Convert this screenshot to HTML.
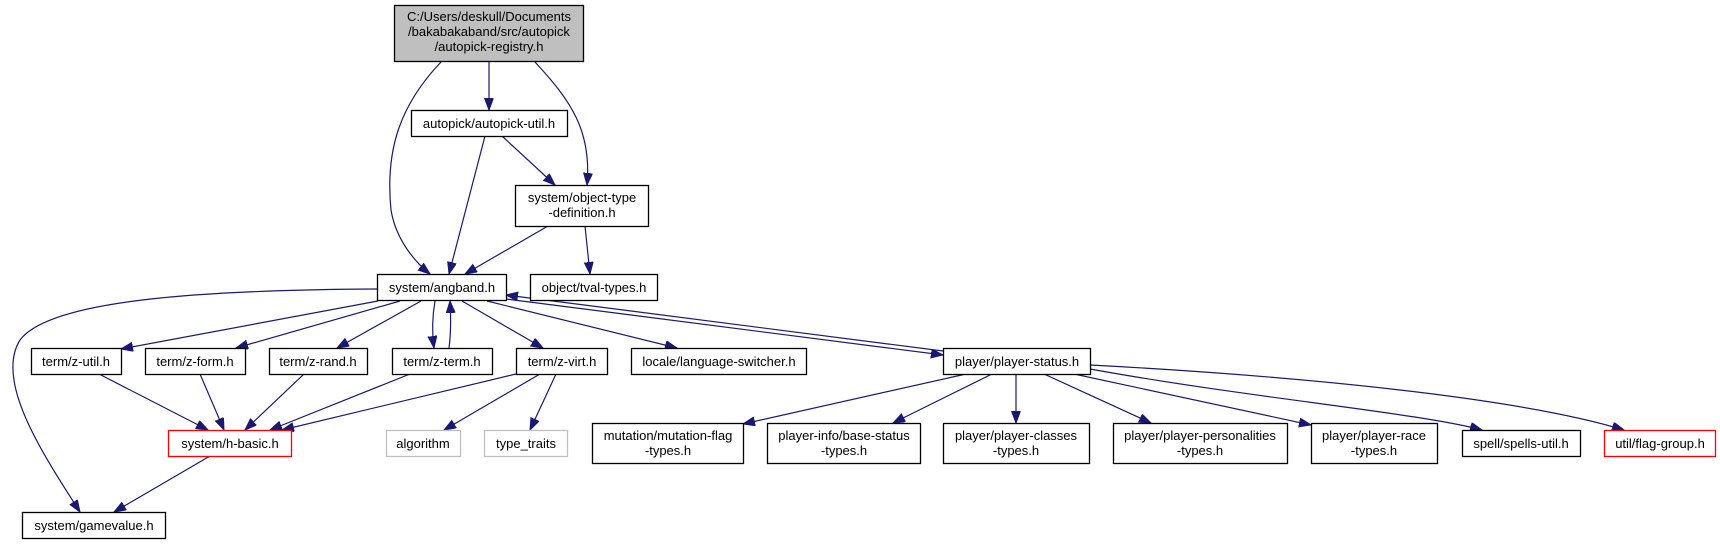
<!DOCTYPE html>
<html><head><meta charset="utf-8"><style>
html,body{margin:0;padding:0;background:#fff;}
svg{display:block;}
text{font-family:"Liberation Sans",Arial,sans-serif;font-size:13px;fill:#000;text-anchor:middle;}
.n{fill:#fff;stroke:#000;stroke-width:1.3;}
.e{fill:none;stroke:#191970;stroke-width:1.2;}
</style></head><body>
<svg width="1720" height="544" viewBox="0 0 1720 544" xmlns="http://www.w3.org/2000/svg">
<defs>
<marker id="a" markerWidth="13" markerHeight="10" refX="12" refY="4.5" orient="auto" markerUnits="userSpaceOnUse">
<polygon points="0,0 12,4.5 0,9" fill="#191970" stroke="#191970"/>
</marker>
</defs>
<g>
<path class="e" d="M441,62 C400,105 385,150 391,210 C396,240 415,262 430,274" marker-end="url(#a)"/>
<path class="e" d="M489,62 L489,110" marker-end="url(#a)"/>
<path class="e" d="M535,62 C570,100 592,130 587,185" marker-end="url(#a)"/>
<path class="e" d="M485,136 L449,274" marker-end="url(#a)"/>
<path class="e" d="M502,136 L555,185" marker-end="url(#a)"/>
<path class="e" d="M548,226 L465,274" marker-end="url(#a)"/>
<path class="e" d="M585,226 L590,274" marker-end="url(#a)"/>
<path class="e" d="M377,289 C200,290 50,300 20,340 C-5,380 40,450 80,512" marker-end="url(#a)"/>
<path class="e" d="M378,301 L121,349" marker-end="url(#a)"/>
<path class="e" d="M400,301 L236,348" marker-end="url(#a)"/>
<path class="e" d="M421,301 L337,348" marker-end="url(#a)"/>
<path class="e" d="M435,301 C432,318 432,333 434,348" marker-end="url(#a)"/>
<path class="e" d="M449,348 C451,333 451,318 450,301" marker-end="url(#a)"/>
<path class="e" d="M462,301 L543,348" marker-end="url(#a)"/>
<path class="e" d="M487,301 L677,348" marker-end="url(#a)"/>
<path class="e" d="M506,299 L943,355" marker-end="url(#a)"/>
<path class="e" d="M943,351 L506,295" marker-end="url(#a)"/>
<path class="e" d="M99,374 L208,430" marker-end="url(#a)"/>
<path class="e" d="M200,374 L224,430" marker-end="url(#a)"/>
<path class="e" d="M304,374 L245,430" marker-end="url(#a)"/>
<path class="e" d="M410,374 L270,430" marker-end="url(#a)"/>
<path class="e" d="M516,374 L282,430" marker-end="url(#a)"/>
<path class="e" d="M540,374 L444,430" marker-end="url(#a)"/>
<path class="e" d="M556,374 L530,430" marker-end="url(#a)"/>
<path class="e" d="M210,456 L114,512" marker-end="url(#a)"/>
<path class="e" d="M966,374 L743,424" marker-end="url(#a)"/>
<path class="e" d="M992,374 L893,423" marker-end="url(#a)"/>
<path class="e" d="M1016,374 L1016,423" marker-end="url(#a)"/>
<path class="e" d="M1044,374 L1151,423" marker-end="url(#a)"/>
<path class="e" d="M1074,374 L1311,425" marker-end="url(#a)"/>
<path class="e" d="M1090,369 C1250,398 1420,413 1482,430" marker-end="url(#a)"/>
<path class="e" d="M1090,365 C1300,376 1520,398 1624,430" marker-end="url(#a)"/>
</g>
<rect x="394.5" y="5.5" width="189" height="56" fill="#bfbfbf" stroke="#000" stroke-width="1.3"/>
<text x="489" y="21">C:/Users/deskull/Documents</text>
<text x="489" y="36">/bakabakaband/src/autopick</text>
<text x="489" y="51">/autopick-registry.h</text>

<rect class="n" x="411.5" y="110.5" width="156" height="26"/><text x="489" y="128">autopick/autopick-util.h</text>
<rect class="n" x="515.5" y="185.5" width="133" height="41"/><text x="582" y="202">system/object-type</text><text x="582" y="217">-definition.h</text>
<rect class="n" x="377.5" y="274.5" width="129" height="26"/><text x="442" y="292">system/angband.h</text>
<rect class="n" x="530.5" y="274.5" width="127" height="26"/><text x="594" y="292">object/tval-types.h</text>

<rect class="n" x="31.5" y="348.5" width="90" height="26"/><text x="76" y="366">term/z-util.h</text>
<rect class="n" x="145.5" y="348.5" width="100" height="26"/><text x="195" y="366">term/z-form.h</text>
<rect class="n" x="269.5" y="348.5" width="98" height="26"/><text x="318" y="366">term/z-rand.h</text>
<rect class="n" x="392.5" y="348.5" width="100" height="26"/><text x="442" y="366">term/z-term.h</text>
<rect class="n" x="516.5" y="348.5" width="91" height="26"/><text x="562" y="366">term/z-virt.h</text>
<rect class="n" x="631.5" y="348.5" width="175" height="26"/><text x="719" y="366">locale/language-switcher.h</text>
<rect class="n" x="943.5" y="348.5" width="147" height="26"/><text x="1017" y="366">player/player-status.h</text>

<rect x="168.5" y="430.5" width="123" height="26" fill="#fff" stroke="#ff0000" stroke-width="1.3"/><text x="230" y="448">system/h-basic.h</text>
<rect x="386.5" y="430.5" width="74" height="26" fill="#fff" stroke="#bfbfbf" stroke-width="1.3"/><text x="423" y="448">algorithm</text>
<rect x="484.5" y="430.5" width="83" height="26" fill="#fff" stroke="#bfbfbf" stroke-width="1.3"/><text x="526" y="448">type_traits</text>

<rect class="n" x="592.5" y="423.5" width="151" height="40"/><text x="668" y="440">mutation/mutation-flag</text><text x="668" y="455">-types.h</text>
<rect class="n" x="767.5" y="423.5" width="153" height="40"/><text x="844" y="440">player-info/base-status</text><text x="844" y="455">-types.h</text>
<rect class="n" x="943.5" y="423.5" width="146" height="40"/><text x="1016" y="440">player/player-classes</text><text x="1016" y="455">-types.h</text>
<rect class="n" x="1113.5" y="423.5" width="174" height="40"/><text x="1200" y="440">player/player-personalities</text><text x="1200" y="455">-types.h</text>
<rect class="n" x="1311.5" y="423.5" width="126" height="40"/><text x="1374" y="440">player/player-race</text><text x="1374" y="455">-types.h</text>
<rect class="n" x="1462.5" y="430.5" width="118" height="26"/><text x="1521" y="448">spell/spells-util.h</text>
<rect x="1604.5" y="430.5" width="111" height="26" fill="#fff" stroke="#ff0000" stroke-width="1.3"/><text x="1660" y="448">util/flag-group.h</text>

<rect class="n" x="22.5" y="512.5" width="143" height="26"/><text x="94" y="530">system/gamevalue.h</text>
</svg>
</body></html>
